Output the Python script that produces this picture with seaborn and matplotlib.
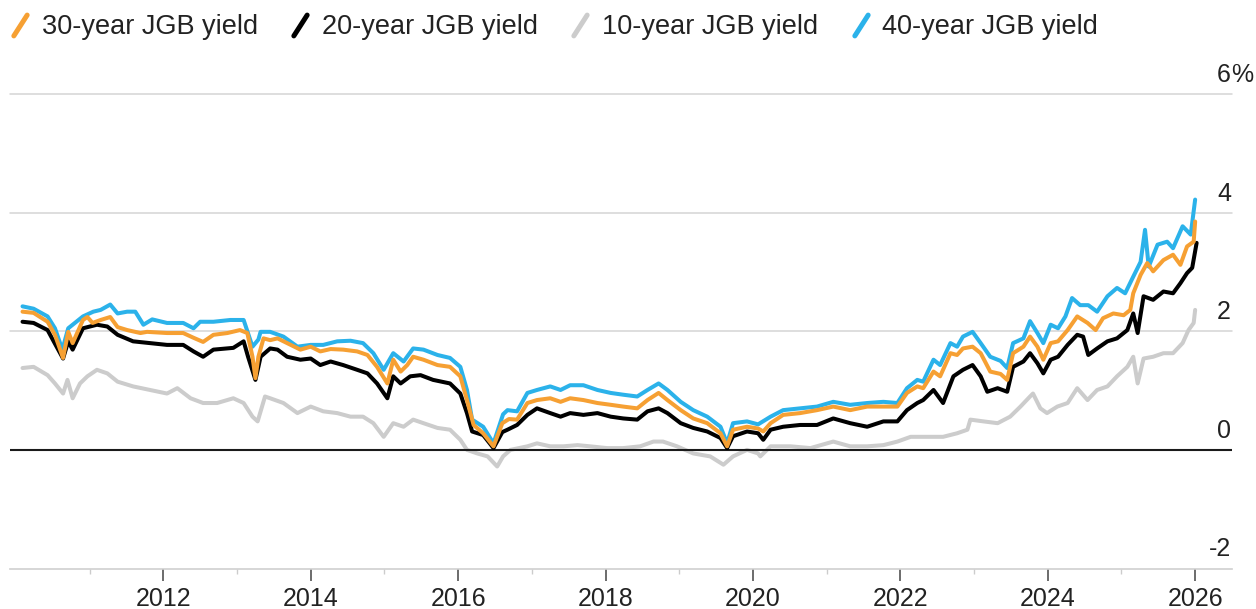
import matplotlib
matplotlib.use("Agg")
import numpy as np
import pandas as pd
import seaborn as sns
import matplotlib.pyplot as plt
import matplotlib.transforms as mtransforms
from matplotlib.path import Path
from matplotlib.markers import MarkerStyle
from matplotlib.lines import Line2D

# ---------------- data (decimal years, yield %) ----------------
years_40 = [2010.09, 2010.24, 2010.43, 2010.53, 2010.63, 2010.71, 2010.91, 2011.05, 2011.15, 2011.28,
            2011.38, 2011.51, 2011.62, 2011.73, 2011.85, 2012.05, 2012.27, 2012.41, 2012.50, 2012.68,
            2012.91, 2013.09, 2013.21, 2013.29, 2013.32, 2013.45, 2013.63, 2013.82, 2014.00, 2014.17,
            2014.36, 2014.54, 2014.71, 2014.85, 2014.99, 2015.12, 2015.26, 2015.39, 2015.53, 2015.72,
            2015.89, 2016.03, 2016.12, 2016.19, 2016.34, 2016.48, 2016.61, 2016.67, 2016.80, 2016.94,
            2017.07, 2017.25, 2017.39, 2017.52, 2017.70, 2017.89, 2018.07, 2018.24, 2018.43, 2018.57,
            2018.72, 2018.84, 2019.02, 2019.19, 2019.38, 2019.56, 2019.65, 2019.73, 2019.92, 2020.07,
            2020.24, 2020.41, 2020.64, 2020.87, 2021.09, 2021.32, 2021.55, 2021.77, 2021.96, 2022.09,
            2022.23, 2022.31, 2022.45, 2022.54, 2022.68, 2022.77, 2022.85, 2022.98, 2023.09, 2023.22,
            2023.36, 2023.45, 2023.53, 2023.67, 2023.76, 2023.86, 2023.94, 2024.04, 2024.14, 2024.24,
            2024.33, 2024.44, 2024.55, 2024.67, 2024.81, 2024.94, 2025.05, 2025.16, 2025.26, 2025.32,
            2025.37, 2025.49, 2025.62, 2025.70, 2025.83, 2025.94, 2026.00]
yield_40 = [2.42, 2.38, 2.25, 2.05, 1.69, 2.05, 2.25, 2.33, 2.36, 2.45,
            2.30, 2.33, 2.33, 2.11, 2.20, 2.14, 2.14, 2.05, 2.16, 2.16,
            2.19, 2.19, 1.74, 1.86, 1.99, 1.99, 1.91, 1.74, 1.77, 1.77,
            1.83, 1.84, 1.80, 1.63, 1.35, 1.63, 1.49, 1.71, 1.69, 1.60,
            1.55, 1.40, 1.01, 0.51, 0.39, 0.11, 0.60, 0.67, 0.65, 0.96,
            1.01, 1.07, 1.01, 1.09, 1.09, 1.01, 0.96, 0.93, 0.90, 1.01,
            1.12, 1.01, 0.81, 0.67, 0.56, 0.39, 0.11, 0.45, 0.48, 0.43,
            0.56, 0.67, 0.70, 0.73, 0.81, 0.76, 0.79, 0.81, 0.79, 1.04,
            1.18, 1.15, 1.52, 1.43, 1.80, 1.74, 1.91, 1.99, 1.80, 1.57,
            1.50, 1.38, 1.80, 1.88, 2.17, 1.97, 1.80, 2.11, 2.05, 2.25,
            2.56, 2.44, 2.44, 2.33, 2.59, 2.73, 2.64, 2.92, 3.17, 3.71,
            3.09, 3.46, 3.51, 3.40, 3.77, 3.63, 4.22]

years_30 = [2010.09, 2010.24, 2010.43, 2010.53, 2010.64, 2010.71, 2010.77, 2010.91, 2010.97, 2011.04,
            2011.15, 2011.28, 2011.38, 2011.51, 2011.69, 2011.78, 2012.05, 2012.27, 2012.41, 2012.54,
            2012.68, 2012.87, 2013.04, 2013.14, 2013.21, 2013.25, 2013.29, 2013.36, 2013.45, 2013.55,
            2013.68, 2013.86, 2014.00, 2014.13, 2014.27, 2014.44, 2014.63, 2014.77, 2014.90, 2015.04,
            2015.12, 2015.22, 2015.31, 2015.39, 2015.53, 2015.72, 2015.89, 2016.03, 2016.12, 2016.21,
            2016.34, 2016.48, 2016.60, 2016.69, 2016.80, 2016.94, 2017.07, 2017.25, 2017.39, 2017.52,
            2017.70, 2017.89, 2018.07, 2018.24, 2018.43, 2018.57, 2018.72, 2018.84, 2019.02, 2019.19,
            2019.38, 2019.56, 2019.65, 2019.73, 2019.92, 2020.07, 2020.14, 2020.24, 2020.41, 2020.64,
            2020.87, 2021.09, 2021.32, 2021.55, 2021.77, 2021.96, 2022.09, 2022.23, 2022.31, 2022.45,
            2022.54, 2022.68, 2022.77, 2022.85, 2022.98, 2023.09, 2023.22, 2023.36, 2023.45, 2023.53,
            2023.67, 2023.76, 2023.86, 2023.94, 2024.04, 2024.14, 2024.27, 2024.40, 2024.54, 2024.65,
            2024.75, 2024.89, 2025.03, 2025.12, 2025.16, 2025.26, 2025.35, 2025.43, 2025.57, 2025.70,
            2025.80, 2025.89, 2025.98, 2026.00]
yield_30 = [2.33, 2.31, 2.16, 1.94, 1.55, 1.99, 1.80, 2.19, 2.24, 2.14,
            2.19, 2.24, 2.07, 2.02, 1.97, 1.99, 1.97, 1.97, 1.89, 1.82,
            1.94, 1.97, 2.02, 1.97, 1.57, 1.21, 1.57, 1.88, 1.85, 1.88,
            1.80, 1.69, 1.74, 1.66, 1.70, 1.69, 1.66, 1.60, 1.40, 1.12,
            1.52, 1.32, 1.43, 1.57, 1.52, 1.43, 1.40, 1.24, 0.84, 0.42,
            0.28, 0.06, 0.45, 0.52, 0.51, 0.79, 0.84, 0.87, 0.81, 0.87,
            0.84, 0.79, 0.76, 0.73, 0.70, 0.84, 0.96, 0.84, 0.67, 0.53,
            0.45, 0.28, 0.06, 0.34, 0.39, 0.36, 0.31, 0.45, 0.59, 0.62,
            0.67, 0.73, 0.67, 0.73, 0.73, 0.73, 0.96, 1.07, 1.04, 1.32,
            1.24, 1.63, 1.60, 1.71, 1.74, 1.63, 1.32, 1.28, 1.18, 1.63,
            1.74, 1.91, 1.74, 1.52, 1.80, 1.83, 2.02, 2.25, 2.14, 2.02,
            2.22, 2.30, 2.27, 2.36, 2.64, 2.95, 3.15, 3.01, 3.20, 3.29,
            3.12, 3.43, 3.51, 3.85]

years_20 = [2010.09, 2010.24, 2010.43, 2010.53, 2010.64, 2010.71, 2010.77, 2010.91, 2011.10, 2011.24,
            2011.38, 2011.59, 2011.82, 2012.05, 2012.27, 2012.41, 2012.54, 2012.68, 2012.95, 2013.09,
            2013.15, 2013.25, 2013.29, 2013.32, 2013.45, 2013.55, 2013.68, 2013.86, 2014.00, 2014.13,
            2014.27, 2014.44, 2014.63, 2014.77, 2014.90, 2015.04, 2015.12, 2015.22, 2015.35, 2015.49,
            2015.66, 2015.89, 2016.03, 2016.12, 2016.19, 2016.34, 2016.48, 2016.60, 2016.67, 2016.80,
            2016.94, 2017.07, 2017.25, 2017.39, 2017.52, 2017.70, 2017.89, 2018.07, 2018.24, 2018.43,
            2018.57, 2018.72, 2018.84, 2019.02, 2019.19, 2019.38, 2019.56, 2019.65, 2019.73, 2019.92,
            2020.07, 2020.14, 2020.24, 2020.41, 2020.64, 2020.87, 2021.09, 2021.32, 2021.55, 2021.77,
            2021.96, 2022.09, 2022.23, 2022.31, 2022.45, 2022.58, 2022.72, 2022.85, 2022.98, 2023.09,
            2023.18, 2023.32, 2023.45, 2023.53, 2023.67, 2023.76, 2023.86, 2023.94, 2024.04, 2024.14,
            2024.27, 2024.40, 2024.48, 2024.55, 2024.67, 2024.81, 2024.94, 2025.08, 2025.16, 2025.22,
            2025.30, 2025.43, 2025.57, 2025.70, 2025.80, 2025.89, 2025.96, 2026.02]
yield_20 = [2.16, 2.14, 2.02, 1.79, 1.54, 1.83, 1.69, 2.05, 2.11, 2.08,
            1.94, 1.83, 1.80, 1.77, 1.77, 1.66, 1.57, 1.69, 1.72, 1.83,
            1.57, 1.18, 1.40, 1.57, 1.71, 1.69, 1.57, 1.52, 1.54, 1.43,
            1.49, 1.43, 1.35, 1.29, 1.12, 0.87, 1.24, 1.12, 1.24, 1.26,
            1.18, 1.12, 0.95, 0.62, 0.31, 0.25, 0.03, 0.30, 0.34, 0.42,
            0.59, 0.70, 0.62, 0.56, 0.62, 0.59, 0.62, 0.56, 0.53, 0.51,
            0.65, 0.70, 0.62, 0.45, 0.37, 0.31, 0.20, 0.03, 0.23, 0.31,
            0.28, 0.17, 0.34, 0.39, 0.42, 0.42, 0.53, 0.45, 0.39, 0.48,
            0.48, 0.67, 0.79, 0.84, 1.01, 0.79, 1.24, 1.35, 1.43, 1.24,
            0.98, 1.04, 0.98, 1.40, 1.49, 1.63, 1.46, 1.29, 1.52, 1.57,
            1.77, 1.94, 1.91, 1.60, 1.71, 1.83, 1.88, 2.02, 2.30, 1.97,
            2.59, 2.53, 2.67, 2.64, 2.81, 2.98, 3.07, 3.49]

years_10 = [2010.09, 2010.24, 2010.43, 2010.53, 2010.64, 2010.70, 2010.77, 2010.87, 2010.97, 2011.10,
            2011.24, 2011.38, 2011.59, 2011.82, 2012.05, 2012.19, 2012.37, 2012.54, 2012.73, 2012.95,
            2013.09, 2013.21, 2013.28, 2013.38, 2013.45, 2013.63, 2013.82, 2014.00, 2014.17, 2014.36,
            2014.54, 2014.71, 2014.85, 2014.99, 2015.12, 2015.26, 2015.39, 2015.53, 2015.72, 2015.89,
            2016.03, 2016.12, 2016.26, 2016.40, 2016.53, 2016.61, 2016.71, 2016.94, 2017.07, 2017.25,
            2017.43, 2017.62, 2017.79, 2018.02, 2018.24, 2018.47, 2018.65, 2018.78, 2018.97, 2019.19,
            2019.42, 2019.60, 2019.73, 2019.92, 2020.07, 2020.10, 2020.24, 2020.51, 2020.78, 2021.09,
            2021.32, 2021.55, 2021.77, 2021.96, 2022.14, 2022.37, 2022.58, 2022.77, 2022.91, 2022.95,
            2023.13, 2023.32, 2023.49, 2023.63, 2023.76, 2023.80, 2023.90, 2023.99, 2024.13, 2024.27,
            2024.40, 2024.54, 2024.67, 2024.81, 2024.94, 2025.08, 2025.16, 2025.22, 2025.30, 2025.43,
            2025.57, 2025.70, 2025.83, 2025.91, 2025.98, 2026.00]
yield_10 = [1.38, 1.40, 1.26, 1.12, 0.95, 1.18, 0.87, 1.12, 1.24, 1.35,
            1.29, 1.15, 1.07, 1.01, 0.95, 1.04, 0.87, 0.79, 0.79, 0.87,
            0.79, 0.56, 0.48, 0.90, 0.87, 0.79, 0.62, 0.73, 0.65, 0.62,
            0.56, 0.56, 0.45, 0.22, 0.45, 0.39, 0.51, 0.45, 0.37, 0.34,
            0.17, 0.00, -0.06, -0.11, -0.28, -0.11, 0.00, 0.06, 0.11, 0.06,
            0.06, 0.08, 0.06, 0.03, 0.03, 0.06, 0.14, 0.14, 0.06, -0.06,
            -0.11, -0.25, -0.11, 0.00, -0.06, -0.11, 0.06, 0.06, 0.03, 0.14,
            0.06, 0.06, 0.08, 0.14, 0.22, 0.22, 0.22, 0.28, 0.34, 0.51,
            0.48, 0.45, 0.56, 0.73, 0.90, 0.95, 0.70, 0.62, 0.73, 0.79,
            1.04, 0.84, 1.01, 1.07, 1.24, 1.40, 1.57, 1.12, 1.54, 1.57,
            1.63, 1.63, 1.80, 2.02, 2.14, 2.36]

legend_labels = ["30-year JGB yield", "20-year JGB yield", "10-year JGB yield", "40-year JGB yield"]
colors = {"30-year JGB yield": "#F6A033", "20-year JGB yield": "#000000",
          "10-year JGB yield": "#CCCCCC", "40-year JGB yield": "#2BB2EA"}
x_ticks = list(range(2012, 2027, 2))
x_minor = list(range(2011, 2027, 2))
y_levels = [-2, 0, 2, 4, 6]
y_labels = ["-2", "0", "2", "4", "6"]

series = {"30-year JGB yield": (years_30, yield_30), "20-year JGB yield": (years_20, yield_20),
          "10-year JGB yield": (years_10, yield_10), "40-year JGB yield": (years_40, yield_40)}
df = pd.concat([pd.DataFrame({"year": x, "yield": y, "series": name})
                for name, (x, y) in series.items()], ignore_index=True)

# ---------------- figure ----------------
sns.set_theme(style="white")
plt.rcParams["font.family"] = ["Liberation Sans", "DejaVu Sans"]
W, H = 1256, 609
fig = plt.figure(figsize=(W / 100, H / 100), dpi=100)
ax = fig.add_axes([10 / W, (H - 568.5) / H, 1222 / W, (568.5 - 94) / H])

# grid lines
for v in [2, 4, 6]:
    ax.axhline(v, color="#d4d4d4", lw=1.1, zorder=1, clip_on=False)
ax.axhline(0, color="#1a1a1a", lw=1.5, zorder=2.5)

draw_order = ["10-year JGB yield", "40-year JGB yield", "20-year JGB yield", "30-year JGB yield"]
for i, name in enumerate(draw_order):
    sub = df[df["series"] == name]
    sns.lineplot(data=sub, x="year", y="yield", color=colors[name], linewidth=2.9,
                 ax=ax, estimator=None, sort=False, legend=False,
                 zorder=2 if name.startswith("10") else 3 + i)

ax.set_xlim(2009.92, 2026.5)
ax.set_ylim(-2, 6)
ax.set_xlabel("")
ax.set_ylabel("")
ax.set_yticks([])
for s in ["left", "right", "top"]:
    ax.spines[s].set_visible(False)
ax.spines["bottom"].set_color("#cfcfcf")
ax.spines["bottom"].set_linewidth(1.2)

ax.set_xticks(x_ticks)
ax.set_xticklabels([str(t) for t in x_ticks])
ax.set_xticks(x_minor, minor=True)
ax.tick_params(axis="x", which="major", length=8.5, width=1.1, color="#444444",
               labelsize=18, pad=5, labelcolor="#222222", direction="out", bottom=True)
ax.tick_params(axis="x", which="minor", length=3.5, width=1.0, color="#cccccc",
               direction="out", bottom=True)

# right-side value labels
ytrans = mtransforms.offset_copy(ax.get_yaxis_transform(), fig=fig, y=12, units="dots")
xr = (1231 - 10) / 1222
for v, lab in zip(y_levels, y_labels):
    ax.text(xr, v, lab, transform=ytrans, ha="right", va="baseline",
            fontsize=18, color="#222222", clip_on=False)
ax.text(xr, y_levels[-1], "%", transform=ytrans, ha="left", va="baseline",
        fontsize=18, color="#222222", clip_on=False)

# legend with slash markers
slash = Path([(-0.32, -0.5), (0.32, 0.5)], [Path.MOVETO, Path.LINETO])
handles = [Line2D([], [], linestyle="none",
                  marker=MarkerStyle(slash, capstyle="round"),
                  markersize=15, markeredgewidth=3.6,
                  markeredgecolor=colors[n], markerfacecolor=colors[n])
           for n in legend_labels]
fig.legend(handles, legend_labels, loc="upper left",
           bbox_to_anchor=(-14 / W, 1.0 + 10 / H),
           ncol=4, frameon=False, fontsize=19.5, handlelength=0.7, handletextpad=0.45,
           columnspacing=1.22, borderpad=0.4, labelcolor="#222222")

fig.savefig("out.png", dpi=100)
